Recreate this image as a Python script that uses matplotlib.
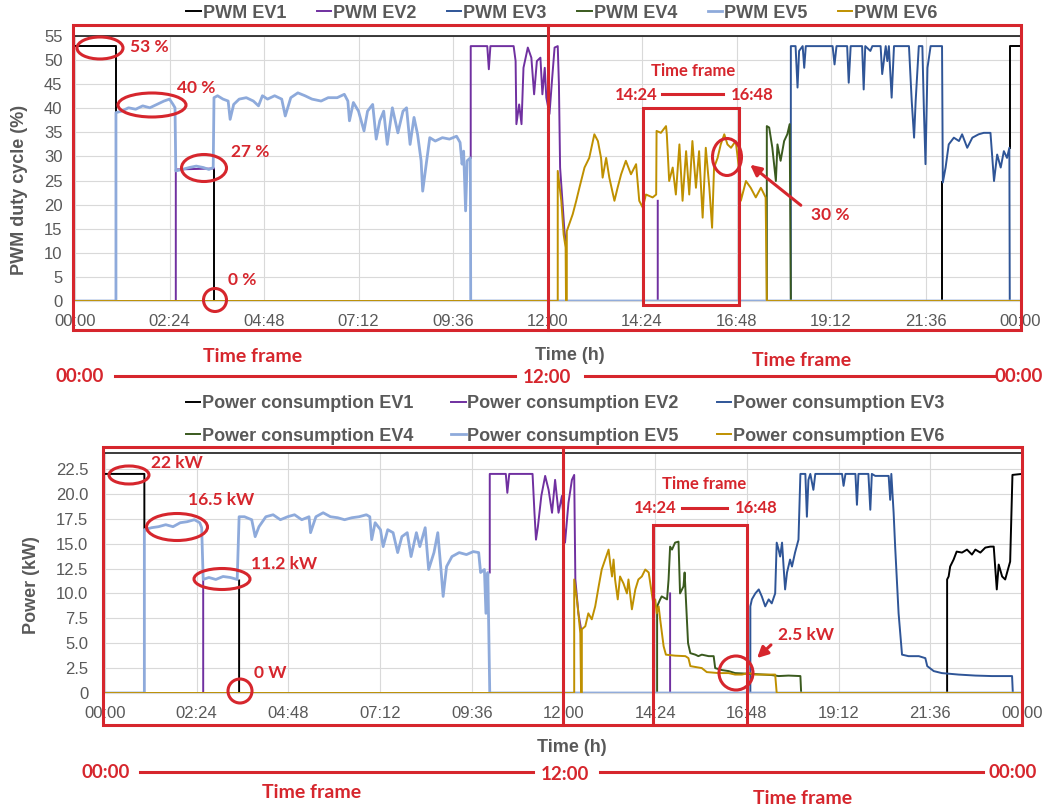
import matplotlib
matplotlib.use("Agg")
import matplotlib.pyplot as plt
from matplotlib.patches import Rectangle, Ellipse, FancyArrowPatch
from matplotlib.lines import Line2D

nan = float("nan")

# ------------------------------------------------------------------ data
tick_hours = [0, 2.4, 4.8, 7.2, 9.6, 12, 14.4, 16.8, 19.2, 21.6, 24]
tick_labels = ["00:00", "02:24", "04:48", "07:12", "09:36", "12:00",
               "14:24", "16:48", "19:12", "21:36", "00:00"]
ev_names = ["EV1", "EV2", "EV3", "EV4", "EV5", "EV6"]
ev_colors = ["#000000", "#7030a0", "#2f5597", "#3a5a1e", "#8eaadb", "#bf9000"]

pwm_yticks = [0, 5, 10, 15, 20, 25, 30, 35, 40, 45, 50, 55]
pow_yticks = [0, 2.5, 5, 7.5, 10, 12.5, 15, 17.5, 20, 22.5]
pow_ylabels = ["0", "2.5", "5.0", "7.5", "10.0", "12.5", "15.0", "17.5", "20.0", "22.5"]

# ---- PWM duty cycle (%)
pwm_ev1_t = [0, 1.04, 1.04, nan, 3.53, 3.53, 22.02, 22.02, nan, 23.74, 23.74, 24]
pwm_ev1_v = [53, 53, 39.5, nan, 27.5, 0, 0, 24.6, nan, 31.8, 53, 53]

pwm_ev2_t = [0, 2.56, 2.56, 3.53, nan, 10.05, 10.05, 10.47, 10.51, 10.55, 11.14, 11.19,
             11.21, 11.28, 11.34, 11.39, 11.50, 11.59, 11.66, 11.73, 11.82, 11.87, 11.93,
             11.97, 12.05, 12.12, 12.18, 12.26, 12.29, 12.32, 12.39, 12.43, 12.46, nan,
             14.8, 14.8, 24]
pwm_ev2_v = [0, 0, 27.3, 27.5, nan, 29.7, 52.9, 52.9, 48.1, 52.9, 52.9, 49.8,
             36.7, 40.8, 36.7, 48.4, 52.6, 50.5, 42.9, 49.8, 50.5, 42.9, 48.4,
             42.2, 38.8, 46.4, 52.6, 52.9, 45.0, 27.7, 19.4, 14.5, 12.5, nan,
             20.8, 0, 0]

pwm_ev3_t = [0, 18.18, 18.18, 18.30, 18.35, 18.39, 18.48, 18.52, 18.56, 19.24, 19.29,
             19.34, 19.61, 19.65, 19.70, 19.99, 20.03, 20.07, 20.20, 20.25, 20.46, 20.50,
             20.59, 20.63, 20.67, 20.74, 20.80, 21.18, 21.25, 21.31, 21.35, 21.43, 21.52,
             21.56, 21.60, 21.65, 21.73, 22.02, 22.04, 22.11, 22.19, 22.32, 22.45, 22.53,
             22.66, 22.79, 22.95, 23.08, 23.25, 23.34, 23.42, 23.51, 23.59, 23.67, 23.73,
             23.74, 24]
pwm_ev3_v = [0, 0, 52.9, 52.9, 44.3, 51.9, 52.9, 48.4, 52.9, 52.9, 49.1,
             52.9, 52.9, 45.3, 52.9, 52.9, 43.9, 52.9, 51.9, 52.9, 52.9, 47.1,
             52.9, 49.8, 52.9, 42.2, 52.9, 52.9, 41.5, 33.9, 41.5, 52.9, 52.9,
             39.4, 28.4, 48.4, 52.9, 52.9, 24.6, 27.7, 32.5, 33.9, 33.2, 34.6,
             31.8, 33.9, 34.6, 34.9, 34.9, 24.9, 30.4, 27.7, 31.1, 29.7, 31.8,
             0, 0]

pwm_ev4_t = [0, 17.57, 17.57, 17.63, 17.71, 17.80, 17.84, 17.92, 18.01, 18.09, 18.15,
             18.18, 24]
pwm_ev4_v = [0, 0, 36.3, 36.0, 31.8, 24.9, 32.5, 29.1, 33.2, 34.6, 36.7, 0, 0]

pwm_ev5_t = [0, 1.04, 1.04, 1.18, 1.36, 1.54, 1.72, 1.90, 2.08, 2.26, 2.40, 2.49, 2.54,
             2.56, 2.72, 2.90, 3.08, 3.26, 3.40, 3.51, 3.53, 3.62, 3.76, 3.89, 3.94,
             4.03, 4.17, 4.35, 4.53, 4.66, 4.76, 4.89, 5.07, 5.25, 5.34, 5.48, 5.66,
             5.84, 6.02, 6.25, 6.43, 6.66, 6.84, 6.93, 6.97, 7.07, 7.20, 7.34, 7.43,
             7.56, 7.65, 7.74, 7.84, 7.93, 8.06, 8.20, 8.33, 8.42, 8.51, 8.61, 8.70,
             8.79, 8.83, 8.92, 9.01, 9.15, 9.33, 9.51, 9.69, 9.78, 9.83, 9.87, 9.92,
             9.96, 10.04, 10.05, 24]
pwm_ev5_v = [0, 0, 39.1, 39.4, 40.1, 39.8, 40.5, 40.1, 40.8, 41.5, 41.9, 40.8, 40.1,
             27.0, 27.3, 27.7, 28.0, 27.7, 27.3, 27.7, 42.2, 42.6, 41.9, 41.5, 37.7,
             40.8, 41.9, 42.2, 41.5, 40.5, 42.6, 41.9, 42.6, 41.9, 38.4, 42.2, 43.2,
             42.6, 41.9, 41.5, 42.2, 42.2, 42.9, 41.5, 37.4, 41.2, 39.4, 35.3, 39.4,
             40.8, 33.6, 37.4, 39.4, 32.5, 40.1, 34.9, 39.4, 40.1, 32.5, 38.1, 34.6,
             29.1, 22.8, 28.4, 33.9, 33.2, 33.9, 33.6, 34.2, 32.9, 28.4, 31.1, 18.7,
             29.1, 29.7, 0, 0]

pwm_ev6_t = [0, 12.26, 12.26, 12.35, 12.41, 12.46, 12.47, 12.49, 12.49, 12.64, 12.73,
             12.81, 12.94, 13.06, 13.19, 13.28, 13.36, 13.40, 13.49, 13.57, 13.70, 13.78,
             13.87, 13.99, 14.12, 14.25, 14.33, 14.42, 14.50, 14.67, 14.76, 14.77, 14.88,
             15.01, 15.03, 15.09, 15.18, 15.26, 15.35, 15.43, 15.52, 15.60, 15.68, 15.77,
             15.85, 15.94, 16.02, 16.11, 16.18, 16.23, 16.32, 16.40, 16.49, 16.57, 16.66,
             16.78, 16.85, 16.91, 17.04, 17.16, 17.29, 17.42, 17.54, 17.57, 24]
pwm_ev6_v = [0, 0, 27.0, 20.8, 13.8, 11.1, 0, 0, 14.5, 18.0, 20.8,
             23.5, 27.7, 29.7, 34.6, 33.2, 29.7, 25.6, 29.7, 25.6, 20.8, 23.5,
             26.3, 29.1, 26.3, 28.4, 20.8, 19.4, 22.1, 21.5, 22.1, 35.3, 34.9,
             36.3, 34.6, 24.9, 27.7, 22.1, 32.5, 20.8, 31.1, 22.1, 33.2, 23.5,
             31.1, 17.3, 31.8, 23.5, 15.2, 27.7, 29.7, 32.5, 34.6, 32.5, 31.8,
             33.2, 28.4, 20.8, 24.9, 23.5, 21.5, 23.5, 21.5, 0, 0]

# ---- Power consumption (kW)
pow_ev1_t = [0, 1.03, 1.03, nan, 3.51, 3.51, 22.04, 22.04, 22.08, 22.12, 22.21, 22.29,
             22.43, 22.56, 22.69, 22.78, 22.91, 23.04, 23.17, 23.26, 23.34, 23.39, 23.48,
             23.56, 23.61, 23.69, 23.75, 24]
pow_ev1_v = [22.0, 22.0, 16.3, nan, 11.3, 0, 0, 11.4, 11.7, 12.7, 13.4, 14.2,
             14.1, 14.4, 13.9, 14.4, 14.1, 14.6, 14.7, 14.7, 10.4, 12.9, 11.7,
             11.4, 12.1, 13.2, 21.9, 22.0]

pow_ev2_t = [0, 2.57, 2.57, nan, 10.07, 10.07, 10.49, 10.53, 10.58, 11.19, 11.24, 11.28,
             11.33, 11.42, 11.52, 11.61, 11.70, 11.78, 11.87, 11.96, 12.04, 12.13, 12.22,
             12.28, 12.31, 12.39, 12.46, nan, 14.79, 14.79, 24]
pow_ev2_v = [0, 0, 11.4, nan, 12.1, 22.0, 22.0, 20.1, 22.0, 22.0, 18.1, 15.4,
             16.7, 19.8, 21.8, 20.4, 18.1, 21.4, 18.1, 19.8, 15.1, 19.1, 21.4,
             21.9, 11.4, 8.0, 6.4, nan, 10.0, 0, 0]

pow_ev3_t = [0, 16.89, 16.89, 16.93, 17.02, 17.11, 17.19, 17.28, 17.37, 17.45, 17.54,
             17.58, 17.63, 17.67, 17.72, 17.76, 17.80, 17.85, 17.93, 17.98, 18.06, 18.15,
             18.20, 18.33, 18.37, 18.41, 18.46, 18.54, 18.59, 19.29, 19.33, 19.38, 19.64,
             19.68, 19.72, 19.98, 20.03, 20.07, 20.16, 20.51, 20.55, 20.58, 20.64, 20.68,
             20.77, 20.86, 21.03, 21.30, 21.47, 21.52, 21.69, 21.90, 22.34, 22.78, 23.21,
             23.74, 23.76, 24]
pow_ev3_v = [0, 0, 8.7, 9.4, 10.0, 10.4, 9.7, 8.7, 9.4, 9.0, 10.0,
             15.1, 14.4, 13.7, 15.1, 12.7, 10.4, 12.1, 13.4, 12.7, 14.1, 15.4,
             22.0, 22.0, 17.7, 21.4, 22.0, 20.4, 22.0, 22.0, 20.8, 22.0, 22.0,
             18.9, 22.0, 22.0, 18.4, 22.0, 21.8, 21.8, 19.4, 22.0, 18.1, 14.7,
             8.0, 3.85, 3.7, 3.7, 3.5, 2.7, 2.2, 2.0, 1.85, 1.75, 1.7,
             1.7, 0, 0]

pow_ev4_t = [0, 14.45, 14.45, 14.53, 14.57, 14.71, 14.75, 14.79, 14.84, 14.92, 15.01,
             15.05, 15.14, 15.17, 15.20, 15.26, 15.32, 15.45, 15.53, 15.62, 15.80, 15.93,
             15.97, 16.15, 16.32, 16.49, 17.02, 17.45, 17.63, 17.89, 18.20, 18.22, 24]
pow_ev4_v = [0, 0, 8.7, 9.4, 9.7, 9.4, 11.4, 14.7, 14.4, 15.1, 15.2,
             10.0, 10.7, 12.1, 9.7, 5.0, 4.0, 3.85, 3.7, 3.85, 3.7, 3.7,
             2.5, 2.3, 2.2, 2.0, 1.9, 1.8, 1.7, 1.75, 1.7, 0, 0]

pow_ev5_t = [0, 1.03, 1.03, 1.22, 1.40, 1.59, 1.78, 1.97, 2.15, 2.34, 2.48, 2.53,
             2.57, 2.72, 2.90, 3.09, 3.28, 3.46, 3.51, 3.65, 3.84, 3.93, 4.03, 4.21,
             4.40, 4.59, 4.78, 4.96, 5.15, 5.34, 5.38, 5.52, 5.71, 5.90, 6.09, 6.27,
             6.46, 6.65, 6.84, 6.93, 6.98, 7.07, 7.21, 7.28, 7.40, 7.54, 7.66, 7.77,
             7.91, 8.01, 8.15, 8.24, 8.38, 8.47, 8.61, 8.71, 8.80, 8.85, 8.94, 9.08,
             9.27, 9.46, 9.64, 9.78, 9.83, 9.93, 9.97, 10.02, 10.07, 24]
pow_ev5_v = [0, 0, 16.4, 16.6, 16.7, 16.9, 16.7, 17.1, 17.2, 17.4, 17.1, 16.6,
             11.4, 11.6, 11.4, 11.7, 11.6, 11.4, 17.7, 17.7, 17.4, 15.7, 16.7, 17.7,
             17.9, 17.4, 17.7, 17.9, 17.4, 17.7, 16.1, 17.7, 18.1, 17.7, 17.6, 17.4,
             17.6, 17.7, 17.9, 17.7, 15.4, 17.1, 16.4, 14.7, 16.4, 16.1, 14.1, 15.7,
             16.1, 13.7, 16.1, 14.7, 16.6, 12.4, 14.1, 16.1, 12.1, 9.7, 12.7, 13.7,
             14.1, 13.9, 14.2, 14.1, 12.1, 12.4, 8.0, 12.1, 0, 0]

pow_ev6_t = [0, 12.28, 12.28, 12.35, 12.39, 12.44, 12.46, 12.48, 12.48, 12.57, 12.65,
             12.74, 12.83, 12.92, 13.00, 13.09, 13.18, 13.22, 13.27, 13.31, 13.35, 13.42,
             13.48, 13.57, 13.66, 13.70, 13.79, 13.88, 13.96, 14.05, 14.14, 14.23, 14.31,
             14.36, 14.40, 14.44, 14.49, 14.53, 14.62, 14.68, 14.92, 15.19, 15.27, 15.32,
             15.62, 15.75, 16.06, 16.32, 16.49, 16.67, 16.84, 17.02, 17.54, 17.58, 24]
pow_ev6_v = [0, 0, 11.4, 9.4, 8.0, 6.0, 0, 0, 6.4, 6.7, 8.0,
             7.4, 8.7, 10.7, 12.4, 13.4, 14.4, 13.1, 11.7, 13.4, 11.4, 9.4,
             11.7, 11.0, 10.0, 11.4, 8.4, 10.4, 11.4, 11.7, 12.4, 12.1, 10.0,
             8.7, 9.4, 8.0, 8.7, 7.4, 4.7, 3.85, 3.75, 3.7, 3.5, 2.7,
             2.5, 2.1, 2.0, 2.0, 1.85, 1.85, 2.0, 1.85, 1.85, 0, 0]

pwm_series = [(pwm_ev1_t, pwm_ev1_v), (pwm_ev2_t, pwm_ev2_v), (pwm_ev3_t, pwm_ev3_v),
              (pwm_ev4_t, pwm_ev4_v), (pwm_ev5_t, pwm_ev5_v), (pwm_ev6_t, pwm_ev6_v)]
pow_series = [(pow_ev1_t, pow_ev1_v), (pow_ev2_t, pow_ev2_v), (pow_ev3_t, pow_ev3_v),
              (pow_ev4_t, pow_ev4_v), (pow_ev5_t, pow_ev5_v), (pow_ev6_t, pow_ev6_v)]

# ------------------------------------------------------------------ style
W, H = 1045, 809
plt.rcParams["font.family"] = ["Liberation Sans", "DejaVu Sans"]
GRAY = "#595959"
RED = "#d6262d"
RED_FONT = ["Lato", "DejaVu Sans"]

fig = plt.figure(figsize=(W / 100, H / 100), dpi=100)


def fx(x):
    return x / W


def fy(y):
    return 1 - y / H


def axes_rect(x0, y0, x1, y1):
    return [fx(x0), fy(y1), (x1 - x0) / W, (y1 - y0) / H]


ax1 = fig.add_axes(axes_rect(75, 36, 1020, 301))
ax2 = fig.add_axes(axes_rect(105, 453, 1022, 693))


def style_axis(ax, yticks, ylabels, ylim, pad_y):
    ax.set_xlim(0, 24)
    ax.set_ylim(*ylim)
    ax.set_xticks(tick_hours)
    ax.set_xticklabels(tick_labels)
    ax.set_yticks(yticks)
    ax.set_yticklabels(ylabels)
    ax.tick_params(axis="both", length=0, labelsize=12, labelcolor=GRAY)
    ax.tick_params(axis="x", pad=9)
    ax.tick_params(axis="y", pad=pad_y)
    ax.grid(True, color="#d9d9d9", lw=0.8)
    ax.set_axisbelow(True)
    for s in ["left", "right"]:
        ax.spines[s].set_visible(False)
    ax.spines["top"].set_color("#1a1a1a")
    ax.spines["top"].set_linewidth(1.2)
    ax.spines["bottom"].set_color("#d9d9d9")


style_axis(ax1, pwm_yticks, [str(v) for v in pwm_yticks], (0, 55), 9)
style_axis(ax2, pow_yticks, pow_ylabels, (0, 24.1), 12)

lines1 = []
for (t, v), c, n in zip(pwm_series, ev_colors, ev_names):
    lw = 2.0 if n == "EV5" else 1.4
    l, = ax1.plot(t, v, color=c, lw=lw, label="PWM " + n)
    lines1.append(l)
lines2 = []
for (t, v), c, n in zip(pow_series, ev_colors, ev_names):
    lw = 2.0 if n == "EV5" else 1.4
    l, = ax2.plot(t, v, color=c, lw=lw, label="Power consumption " + n)
    lines2.append(l)

lab_font = dict(fontsize=13, fontweight="bold", color=GRAY)
ax1.set_ylabel("PWM duty cycle (%)", **lab_font)
ax1.yaxis.set_label_coords((28 - 75) / 945, (301 - 190) / 265)
ax1.set_xlabel("Time (h)", **lab_font)
ax1.xaxis.set_label_coords((570 - 75) / 945, (301 - 347) / 265)
ax2.set_ylabel("Power (kW)", **lab_font)
ax2.yaxis.set_label_coords((40 - 105) / 917, (693 - 585) / 240)
ax2.set_xlabel("Time (h)", **lab_font)
ax2.xaxis.set_label_coords((572 - 105) / 917, (693 - 739) / 240)

leg_kw = dict(frameon=False, handlelength=0.8, handletextpad=0.1,
              prop=dict(size=13, weight="bold"), labelcolor=GRAY, borderpad=0)
fig.legend(handles=lines1, loc="center", ncol=6, columnspacing=1.7,
           bbox_to_anchor=(fx(562), fy(13)), **leg_kw)
order = [0, 3, 1, 4, 2, 5]
fig.legend(handles=[lines2[i] for i in order], loc="center", ncol=3, columnspacing=2.1,
           labelspacing=0.85, bbox_to_anchor=(fx(565), fy(420)), **leg_kw)

# ------------------------------------------------------------------ red annotations


def rect(x0, y0, x1, y1, lw=2.2):
    fig.patches.append(Rectangle((fx(x0), fy(y1)), (x1 - x0) / W, (y1 - y0) / H,
                                 transform=fig.transFigure, fill=False,
                                 edgecolor=RED, lw=lw, zorder=10))


def vline(x, y0, y1, lw=2.2):
    fig.lines.append(Line2D([fx(x), fx(x)], [fy(y0), fy(y1)], transform=fig.transFigure,
                            color=RED, lw=lw, zorder=10))


def hline(x0, x1, y, lw=2.2):
    fig.lines.append(Line2D([fx(x0), fx(x1)], [fy(y), fy(y)], transform=fig.transFigure,
                            color=RED, lw=lw, zorder=10))


def ell(cx, cy, w, h):
    fig.patches.append(Ellipse((fx(cx), fy(cy)), w / W, h / H, transform=fig.transFigure,
                               fill=False, edgecolor=RED, lw=2.2, zorder=10))


def rtext(x, y, s, size=12.5):
    fig.text(fx(x), fy(y), s, color=RED, fontsize=size, fontweight="bold",
             family=RED_FONT, ha="center", va="center")


def arrow(x0, y0, x1, y1):
    fig.patches.append(FancyArrowPatch((fx(x0), fy(y0)), (fx(x1), fy(y1)),
                                       transform=fig.transFigure, arrowstyle="-|>",
                                       mutation_scale=16, color=RED, lw=2.2, zorder=10))


# top panel frames
rect(73, 25, 1021, 330)
vline(548, 25, 330)
rect(643, 108, 739, 305)
ell(100, 48, 46, 22)
ell(152, 105, 68, 24)
ell(204, 168, 45, 27)
ell(215, 300, 23, 23)
rtext(149, 47, "53 %")
rtext(196, 88, "40 %")
rtext(250, 152, "27 %")
rtext(242, 280, "0 %")
rtext(693, 71, "Time frame", 12)
rtext(636, 95, "14:24", 12)
hline(662, 723, 94)
rtext(752, 95, "16:48", 12)
ell(727, 157, 29, 37)
arrow(803, 207, 748, 163)
rtext(830, 215, "30 %")

# between panels
rtext(253, 356, "Time frame", 14)
rtext(802, 361, "Time frame", 14)
rtext(80, 376, "00:00", 13.5)
hline(115, 515, 376)
rtext(547, 378, "12:00", 13.5)
hline(585, 995, 376)
rtext(1019, 376, "00:00", 13.5)

# bottom panel frames
rect(103, 447, 1022, 725)
vline(563, 447, 725)
rect(653, 525, 747, 725)
ell(129, 475, 40, 18)
ell(177, 527, 61, 27)
ell(222, 579, 56, 21)
ell(240, 691, 24, 24)
rtext(177, 463, "22 kW")
rtext(221, 500, "16.5 kW")
rtext(284, 564, "11.2 kW")
rtext(270, 673, "0 W")
rtext(704, 484, "Time frame", 12)
rtext(655, 508, "14:24", 12)
hline(682, 727, 508)
rtext(756, 508, "16:48", 12)
ell(736, 673, 34, 34)
arrow(773, 643, 755, 660)
rtext(806, 635, "2.5 kW")

# below bottom panel
rtext(106, 772, "00:00", 13.5)
hline(140, 533, 772)
rtext(565, 774, "12:00", 13.5)
hline(600, 983, 772)
rtext(1013, 773, "00:00", 13.5)
rtext(312, 793, "Time frame", 14)
rtext(803, 798, "Time frame", 14)

fig.savefig("out.png", dpi=100)
